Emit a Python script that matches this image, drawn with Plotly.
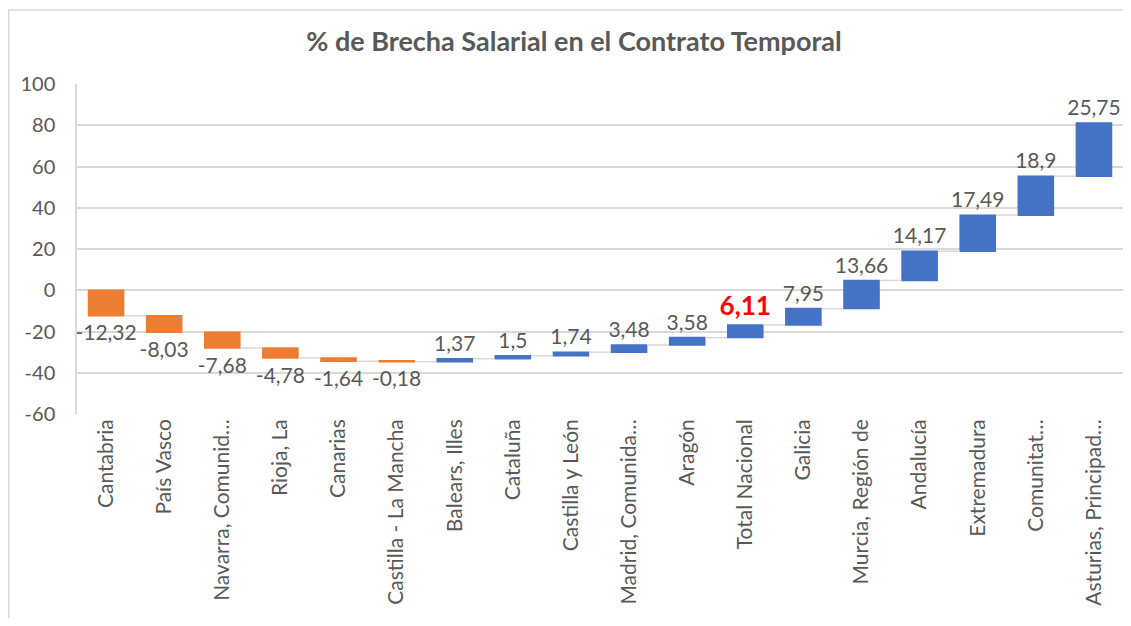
import plotly.graph_objects as go

categories = ["Cantabria", "País Vasco", "Navarra, Comunid…", "Rioja, La", "Canarias",
              "Castilla - La Mancha", "Balears, Illes", "Cataluña", "Castilla y León",
              "Madrid, Comunida…", "Aragón", "Total Nacional", "Galicia",
              "Murcia, Región de", "Andalucía", "Extremadura", "Comunitat…",
              "Asturias, Principad…"]
values = [-12.32, -8.03, -7.68, -4.78, -1.64, -0.18, 1.37, 1.5, 1.74, 3.48, 3.58,
          6.11, 7.95, 13.66, 14.17, 17.49, 18.9, 25.75]
highlight = "Total Nacional"
title = "% de Brecha Salarial en el Contrato Temporal"
y_ticks = [-60, -40, -20, 0, 20, 40, 60, 80, 100]
y_ticklabels = ["-60", "-40", "-20", "0", "20", "40", "60", "80", "100"]

GRAY = "#595959"
FONT = "Lato"

def fmt(v):
    return ("%g" % v).replace(".", ",")

texts, colors, sizes = [], [], []
for c, v in zip(categories, values):
    if c == highlight:
        texts.append("<b>" + fmt(v) + "</b>")
        colors.append("#FF0000")
        sizes.append(26)
    else:
        texts.append(fmt(v))
        colors.append(GRAY)
        sizes.append(21)

fig = go.Figure(go.Waterfall(
    x=categories,
    y=values,
    measure=["relative"] * len(values),
    text=texts,
    textposition="outside",
    textfont=dict(family=FONT, size=sizes, color=colors),
    constraintext="none",
    cliponaxis=False,
    increasing=dict(marker=dict(color="#4472C4")),
    decreasing=dict(marker=dict(color="#ED7D31")),
    connector=dict(line=dict(color="#D9D9D9", width=1.5)),
    width=0.63,
    showlegend=False,
))

W, H = 1115, 610
L, R, T, B = 69, 0, 76, 204
PW, PH = W - L - R, H - T - B

fig.update_layout(
    width=W, height=H,
    margin=dict(l=L, r=R, t=T, b=B),
    paper_bgcolor="white", plot_bgcolor="white",
    font=dict(family=FONT, color=GRAY),
    title=dict(text="<b>" + title + "</b>", x=566 / W, xanchor="center",
               y=1 - 34 / H, yanchor="middle",
               font=dict(family=FONT, size=27, color=GRAY)),
    separators=",.",
    xaxis=dict(tickangle=-90, tickfont=dict(family=FONT, size=21, color=GRAY),
               showgrid=False, showline=False, ticks=""),
    yaxis=dict(range=[-60, 100], tickvals=y_ticks, ticktext=y_ticklabels,
               tickfont=dict(family=FONT, size=20, color=GRAY),
               gridcolor="#D9D9D9", gridwidth=1.5, zeroline=False,
               showline=True, linecolor="#D9D9D9", linewidth=1.5, ticks="",
               ticklabelstandoff=16),
)

# outer chart border
fig.add_shape(type="rect", xref="paper", yref="paper",
              x0=(0.75 - L) / PW, x1=(W + 30 - L) / PW,
              y0=(PH + T - H - 60) / PH, y1=(PH + T - 2) / PH,
              line=dict(color="#D9D9D9", width=1.5), layer="below")

fig.write_html("out.html")
